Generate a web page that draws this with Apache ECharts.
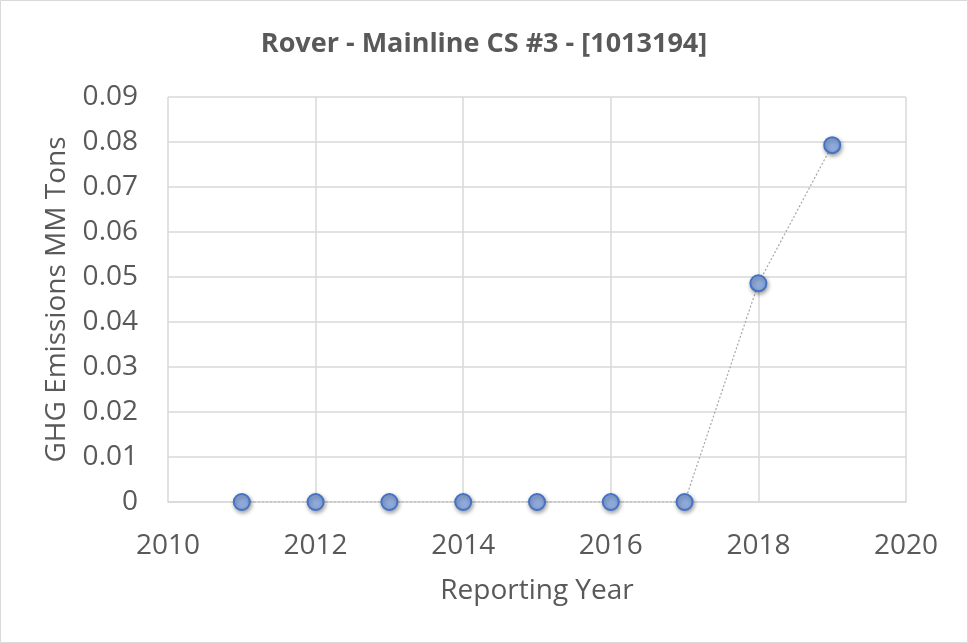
<!DOCTYPE html>
<html>
<head>
<meta charset="utf-8">
<script src="https://cdn.jsdelivr.net/npm/echarts@6/dist/echarts.min.js"></script>
<style>
html,body{margin:0;padding:0;background:#fff;}
#chart{width:968px;height:643px;}
</style>
</head>
<body>
<div id="chart"></div>
<script>
var years = [2011, 2012, 2013, 2014, 2015, 2016, 2017, 2018, 2019];
var emissions = [0, 0, 0, 0, 0, 0, 0, 0.0486, 0.0793];
var titleText = 'Rover - Mainline CS #3 - [1013194]';
var xAxisTitle = 'Reporting Year';
var yAxisTitle = 'GHG Emissions MM Tons';

var points = years.map(function (y, i) { return [y, emissions[i]]; });
var textColor = '#595959';
var font = '"Open Sans", sans-serif';

var chart = echarts.init(document.getElementById('chart'));
chart.setOption({
  animation: false,
  backgroundColor: '#ffffff',
  graphic: [{
    type: 'rect',
    shape: { x: 0.5, y: 0.5, width: 967, height: 642 },
    style: { fill: 'none', stroke: '#d9d9d9', lineWidth: 1 },
    silent: true
  }],
  title: {
    text: titleText,
    left: 'center',
    top: 26,
    textStyle: { fontFamily: font, fontSize: 27, fontWeight: 'bold', color: textColor }
  },
  grid: { left: 168, right: 62, top: 97, bottom: 141, containLabel: false },
  xAxis: {
    type: 'value',
    min: 2010,
    max: 2020,
    interval: 2,
    name: xAxisTitle,
    nameLocation: 'middle',
    nameGap: 75,
    nameTextStyle: { fontFamily: font, fontSize: 28, color: textColor },
    axisLine: { show: true, lineStyle: { color: '#d9d9d9', width: 1.5 } },
    axisTick: { show: false },
    axisLabel: { fontFamily: font, fontSize: 28, color: textColor, margin: 30,
      formatter: function (v) { return String(v); } },
    splitLine: { show: true, lineStyle: { color: '#d9d9d9', width: 1.5 } }
  },
  yAxis: {
    type: 'value',
    min: 0,
    max: 0.09,
    interval: 0.01,
    name: yAxisTitle,
    nameLocation: 'middle',
    nameGap: 97,
    nameTextStyle: { fontFamily: font, fontSize: 28, color: textColor },
    axisLine: { show: false },
    axisTick: { show: false },
    axisLabel: { fontFamily: font, fontSize: 28, color: textColor, margin: 30 },
    splitLine: { show: true, lineStyle: { color: '#d9d9d9', width: 1.5 } }
  },
  series: [{
    type: 'line',
    data: points,
    symbol: 'circle',
    symbolSize: 16,
    itemStyle: {
      color: '#8eaadb',
      borderColor: '#4472c4',
      borderWidth: 2,
      shadowColor: 'rgba(0,0,0,0.35)',
      shadowBlur: 4,
      shadowOffsetX: 1,
      shadowOffsetY: 2
    },
    lineStyle: { color: '#a6a6a6', width: 1.2, type: [2, 2] },
    z: 3
  }]
});
</script>
</body>
</html>
